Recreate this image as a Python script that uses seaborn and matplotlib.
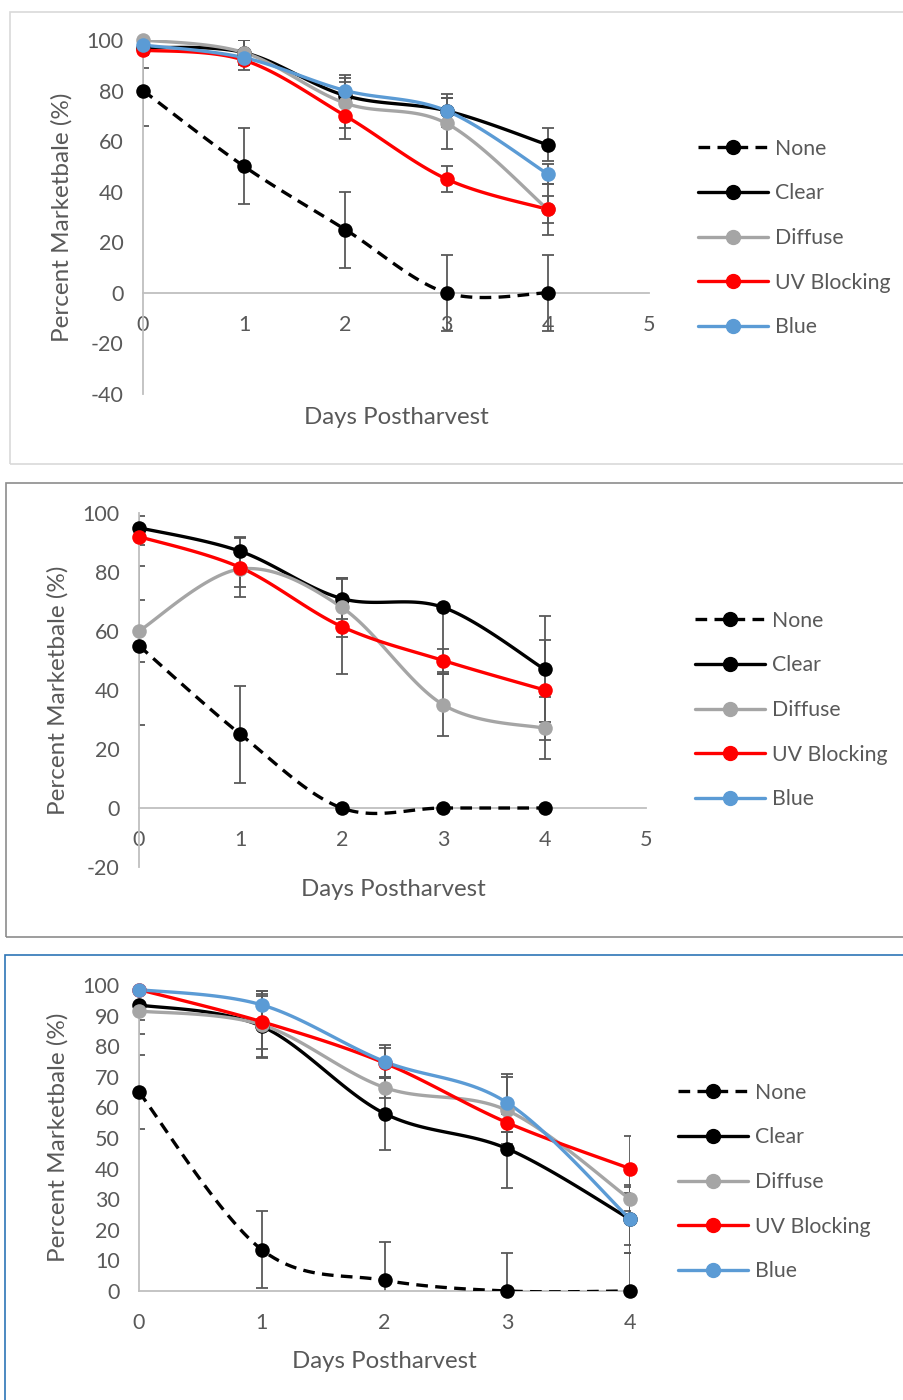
import numpy as np
import pandas as pd
import matplotlib
matplotlib.use('Agg')
import matplotlib.pyplot as plt
from matplotlib.lines import Line2D
from matplotlib.patches import Rectangle
import seaborn as sns

# --- data ---
days = [0, 1, 2, 3, 4]
names = ['None', 'Clear', 'Diffuse', 'UV Blocking', 'Blue']

# panel 1
p1_none = [80, 50, 25, 0, 0]
p1_clear = [97, 95, 78, 72, 58.5]
p1_diffuse = [100, 95, 75, 67, 33]
p1_uv = [96, 92, 70, 45, 33]
p1_blue = [98, 93, 80, 72, 47]
p1_none_err = [14, 15, 15, 15, 15]
p1_clear_err = [3, 5, 8, 6.5, 6.5]
p1_diffuse_err = [2, 5, 10, 10, 5.5]
p1_uv_err = [7, 4, 9, 5, 10]
p1_blue_err = [2, 3, 3.5, 5, 4]

# panel 2 (no Blue data)
p2_none = [55, 25, 0, 0, 0]
p2_clear = [95, 87, 71, 68, 47]
p2_diffuse = [60, 81, 68, 35, 27]
p2_uv = [92, 81.5, 61.5, 50, 40]
p2_none_err = [27, 16.5, 0, 0, 0]
p2_clear_err = [4, 5, 7, 22.5, 18]
p2_clear_err_up = [4, 5, 7, 0, 18]   # day 3 only shows the lower bar
p2_diffuse_err = [10.5, 6, 10, 10.5, 10.5]
p2_uv_err = [3, 10, 16, 4, 17]

# panel 3
p3_none = [65, 13.5, 3.5, 0, 0]
p3_clear = [93.5, 86.5, 58, 46.5, 23.5]
p3_diffuse = [91.5, 87, 66.5, 59, 30]
p3_uv = [98.5, 88, 74.5, 55, 40]
p3_blue = [98.5, 93.5, 75, 61.5, 23.5]
p3_none_err = [12, 12.5, 12.5, 12.5, 12.5]
p3_clear_err = [9.5, 10, 12, 13, 8.5]
p3_diffuse_err = [3, 11, 3.5, 11, 4]
p3_uv_err = [1, 9, 5, 3, 10.5]
p3_blue_err = [1, 4.5, 5.5, 9.5, 11]

colors = {'None': '#000000', 'Clear': '#000000', 'Diffuse': '#a5a5a5',
          'UV Blocking': '#ff0000', 'Blue': '#5b9bd5'}
styles = {'None': (0, (3.5, 2.2)), 'Clear': '-', 'Diffuse': '-',
          'UV Blocking': '-', 'Blue': '-'}

sns.set_theme(style='white')
plt.rcParams['font.family'] = ['Lato', 'DejaVu Sans']
plt.rcParams['axes.unicode_minus'] = False
TXT = '#595959'

W, H = 904, 1400
fig = plt.figure(figsize=(W / 100, H / 100), dpi=100)


def fx(px):
    return px / W


def fy(py):
    return 1 - py / H


def smooth(xs, ys, n=30):
    # Excel style smoothed line (Catmull-Rom bezier)
    pts = np.column_stack([xs, ys]).astype(float)
    P = np.vstack([pts[0], pts, pts[-1]])
    out = []
    t = np.linspace(0, 1, n)[:, None]
    for i in range(1, len(P) - 2):
        p0, p1, p2, p3 = P[i - 1], P[i], P[i + 1], P[i + 2]
        c1 = p1 + (p2 - p0) / 6
        c2 = p2 - (p3 - p1) / 6
        seg = (1 - t) ** 3 * p1 + 3 * (1 - t) ** 2 * t * c1 + 3 * (1 - t) * t ** 2 * c2 + t ** 3 * p2
        out.append(seg if i == 1 else seg[1:])
    return np.vstack(out)


def draw_panel(frame, box, series, errs, xlim, ylim, ystep, xlab_pos, ylab_pos, leg_pos, frame_col):
    x0, x1, y0, y1 = box
    fig.add_artist(Rectangle((fx(frame[0]), fy(frame[3])), fx(frame[2] - frame[0]),
                             (frame[3] - frame[1]) / H, transform=fig.transFigure,
                             fill=False, edgecolor=frame_col, lw=1.2))
    ax = fig.add_axes([fx(x0), fy(y1), (x1 - x0) / W, (y1 - y0) / H])
    ax.set_facecolor('none')
    for name, y in series.items():
        c = colors[name]
        ax.errorbar(days, y, yerr=errs[name], fmt='none', ecolor=TXT, elinewidth=1.3,
                    capsize=4, capthick=1.3, zorder=2)
        curve = smooth(days, y)
        df = pd.DataFrame({'x': curve[:, 0], 'y': curve[:, 1]})
        sns.lineplot(data=df, x='x', y='y', sort=False, estimator=None, color=c, lw=2.4,
                     linestyle=styles[name], ax=ax, zorder=3)
        sns.scatterplot(x=days, y=y, color=c, s=110, edgecolor=c, linewidth=0, ax=ax,
                        zorder=4, clip_on=False)
    ax.set_xlim(*xlim)
    ax.set_ylim(*ylim)
    ax.set_xticks(range(xlim[0], xlim[1] + 1))
    ax.set_yticks(range(ylim[0], ylim[1] + 1, ystep))
    ax.set_xlabel('')
    ax.set_ylabel('')
    for s in ['top', 'right']:
        ax.spines[s].set_visible(False)
    ax.spines['bottom'].set_position(('data', 0))
    for s in ['left', 'bottom']:
        ax.spines[s].set_color('#bfbfbf')
        ax.spines[s].set_linewidth(1.3)
    ax.tick_params(axis='both', length=0, labelsize=15.5, labelcolor=TXT)
    ax.tick_params(axis='y', pad=14)
    ax.tick_params(axis='x', pad=16)
    fig.text(fx(xlab_pos[0]), fy(xlab_pos[1]), 'Days Postharvest', ha='center', va='center',
             fontsize=17.3, color=TXT)
    fig.text(fx(ylab_pos[0]), fy(ylab_pos[1]), 'Percent Marketbale (%)', ha='center', va='center',
             rotation=90, fontsize=17.5, color=TXT)
    handles = [Line2D([], [], color=colors[n], lw=2.4, linestyle=styles[n], marker='o',
                      markersize=10) for n in names]
    fig.legend(handles, names, loc='center left', bbox_to_anchor=(fx(leg_pos[0]), fy(leg_pos[1])),
               frameon=False, fontsize=15.3, handlelength=3.3, handletextpad=0.33,
               labelspacing=1.16, borderpad=0, borderaxespad=0, labelcolor=TXT)
    return ax


draw_panel((10, 12, 920, 464), (143, 649, 40, 394),
           {'None': p1_none, 'Clear': p1_clear, 'Diffuse': p1_diffuse,
            'UV Blocking': p1_uv, 'Blue': p1_blue},
           {'None': p1_none_err, 'Clear': p1_clear_err, 'Diffuse': p1_diffuse_err,
            'UV Blocking': p1_uv_err, 'Blue': p1_blue_err},
           (0, 5), (-40, 100), 20, (396, 417), (62, 217), (698, 238), '#d9d9d9')

draw_panel((6, 483, 920, 937), (139, 646, 513, 867),
           {'None': p2_none, 'Clear': p2_clear, 'Diffuse': p2_diffuse, 'UV Blocking': p2_uv},
           {'None': p2_none_err, 'Clear': [p2_clear_err, p2_clear_err_up],
            'Diffuse': p2_diffuse_err, 'UV Blocking': p2_uv_err},
           (0, 5), (-20, 100), 20, (393, 889), (58, 690), (695, 710), '#8c8c8c')

draw_panel((5, 955, 920, 1420), (139, 630, 985, 1291),
           {'None': p3_none, 'Clear': p3_clear, 'Diffuse': p3_diffuse,
            'UV Blocking': p3_uv, 'Blue': p3_blue},
           {'None': p3_none_err, 'Clear': p3_clear_err, 'Diffuse': p3_diffuse_err,
            'UV Blocking': p3_uv_err, 'Blue': p3_blue_err},
           (0, 4), (0, 100), 10, (384, 1361), (58, 1137), (678, 1182), '#2e75b6')

fig.savefig('out.png', dpi=100)
